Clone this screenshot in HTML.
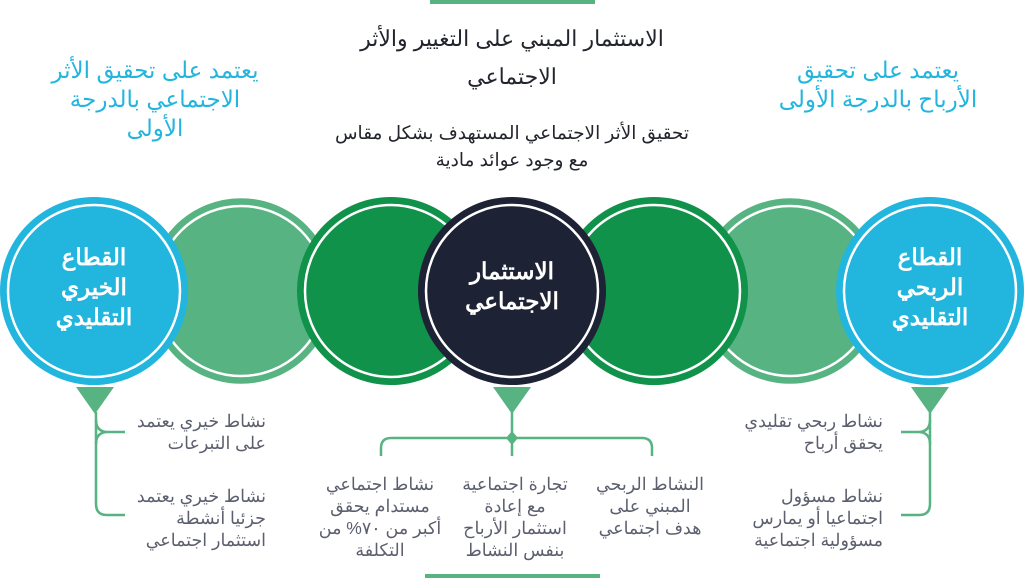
<!DOCTYPE html>
<html><head><meta charset="utf-8"><style>
body{margin:0;width:1024px;height:578px;background:#fff;overflow:hidden;position:relative;font-family:"Liberation Sans","Noto Sans CJK SC",sans-serif}
.t{position:absolute;direction:rtl;white-space:nowrap}
.c{text-align:center;transform:translateX(-50%)}
.g{color:#5c5f6e;font-size:17.5px;line-height:22px}
</style></head><body>
<svg width="1024" height="578" style="position:absolute;left:0;top:0">
<rect x="430" y="0" width="165" height="4" fill="#57b382"/>
<rect x="425" y="574" width="175" height="4" fill="#57b382"/>
<g stroke="#fff" stroke-width="2.5">
<circle cx="241" cy="291" r="94" fill="#57b382"/><circle cx="241" cy="291" r="85" fill="none"/>
<circle cx="790" cy="291" r="94" fill="#57b382"/><circle cx="790" cy="291" r="85" fill="none"/>
</g>
<g stroke="#fff" stroke-width="2.5">
<circle cx="94" cy="291" r="94" fill="#22b5de" stroke="none"/><circle cx="94" cy="291" r="86" fill="none"/>
<circle cx="930" cy="291" r="94" fill="#22b5de" stroke="none"/><circle cx="930" cy="291" r="86" fill="none"/>
<circle cx="391" cy="291" r="94" fill="#11924a" stroke="none"/><circle cx="391" cy="291" r="86" fill="none"/>
<circle cx="654" cy="291" r="94" fill="#11924a" stroke="none"/><circle cx="654" cy="291" r="86" fill="none"/>
<circle cx="512" cy="291" r="94" fill="#1e2235" stroke="none"/><circle cx="512" cy="291" r="86" fill="none"/>
</g>
<g fill="#57b382">
<polygon points="76,387 114,387 95,414"/>
<polygon points="493,387 531,387 512,414"/>
<polygon points="911,387 949,387 930,414"/>
<polygon points="512,431 518,438 512,445 506,438"/>
</g>
<g fill="none" stroke="#57b382" stroke-width="2.5">
<path d="M96,412 V504 Q96,515 107,515 H125"/>
<path d="M96,420 Q96,432 108,432 H125 M96,444 Q96,432 108,432"/>
<path d="M930,412 V504 Q930,515 919,515 H901"/>
<path d="M930,420 Q930,432 918,432 H901 M930,444 Q930,432 918,432"/>
<path d="M512,412 V456"/>
<path d="M381,456 V448 Q381,438 391,438 H642 Q652,438 652,448 V456"/>
</g>
</svg>
<div class="t c" style="left:512px;top:20px;font-size:22px;color:#23252e;line-height:38px">الاستثمار المبني على التغيير والأثر<br>الاجتماعي</div>
<div class="t c" style="left:155px;top:56px;font-size:23px;color:#22b5de;line-height:29px">يعتمد على تحقيق الأثر<br>الاجتماعي بالدرجة<br>الأولى</div>
<div class="t c" style="left:878px;top:56px;font-size:23px;color:#22b5de;line-height:29px">يعتمد على تحقيق<br>الأرباح بالدرجة الأولى</div>
<div class="t c" style="left:512px;top:119px;font-size:18.5px;color:#23252e;line-height:27px">تحقيق الأثر الاجتماعي المستهدف بشكل مقاس<br>مع وجود عوائد مادية</div>
<div class="t c" style="left:94px;top:242px;font-size:23px;font-weight:bold;color:#fff;line-height:30px">القطاع<br>الخيري<br>التقليدي</div>
<div class="t c" style="left:512px;top:256px;font-size:23px;font-weight:bold;color:#fff;line-height:30px">الاستثمار<br>الاجتماعي</div>
<div class="t c" style="left:930px;top:242px;font-size:23px;font-weight:bold;color:#fff;line-height:30px">القطاع<br>الربحي<br>التقليدي</div>
<div class="t g" style="right:758px;top:410px;text-align:right">نشاط خيري يعتمد<br>على التبرعات</div>
<div class="t g" style="right:758px;top:485px;text-align:right">نشاط خيري يعتمد<br>جزئيا أنشطة<br>استثمار اجتماعي</div>
<div class="t g c" style="left:380px;top:473px">نشاط اجتماعي<br>مستدام يحقق<br>أكبر من ٧٠% من<br>التكلفة</div>
<div class="t g c" style="left:515px;top:473px">تجارة اجتماعية<br>مع إعادة<br>استثمار الأرباح<br>بنفس النشاط</div>
<div class="t g c" style="left:650px;top:473px">النشاط الربحي<br>المبني على<br>هدف اجتماعي</div>
<div class="t g" style="right:141px;top:410px;text-align:right">نشاط ربحي تقليدي<br>يحقق أرباح</div>
<div class="t g" style="right:141px;top:485px;text-align:right">نشاط مسؤول<br>اجتماعيا أو يمارس<br>مسؤولية اجتماعية</div>
</body></html>
